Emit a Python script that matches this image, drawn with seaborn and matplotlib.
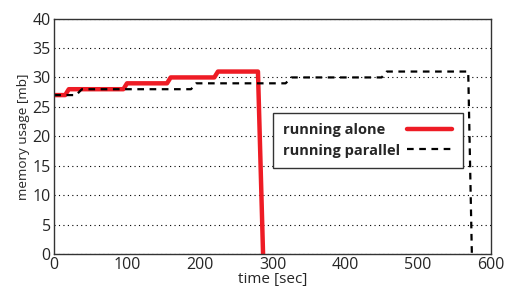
import matplotlib
matplotlib.use('Agg')
import matplotlib.pyplot as plt
import seaborn as sns
import pandas as pd

# step profiles
alone_time = [0, 15, 20, 95, 100, 155, 160, 220, 225, 280, 287]
alone_mem = [27, 27, 28, 28, 29, 29, 30, 30, 31, 31, 0]
parallel_time = [0, 30, 38, 188, 195, 318, 326, 450, 457, 569, 574]
parallel_mem = [27, 27, 28, 28, 29, 29, 30, 30, 31, 31, 0]

x_ticks = [0, 100, 200, 300, 400, 500, 600]
y_ticks = [0, 5, 10, 15, 20, 25, 30, 35, 40]

sns.set_style('white')
plt.rcParams['font.family'] = ['Open Sans', 'DejaVu Sans']

alone = pd.DataFrame({'time': alone_time, 'mem': alone_mem})
parallel = pd.DataFrame({'time': parallel_time, 'mem': parallel_mem})

fig, ax = plt.subplots(figsize=(5.07, 2.86), dpi=100)
fig.subplots_adjust(left=0.107, right=0.968, top=0.935, bottom=0.112)

sns.lineplot(data=alone, x='time', y='mem', sort=False, color='#ee1c25', lw=3.2,
			 label='running alone', ax=ax)
sns.lineplot(data=parallel, x='time', y='mem', sort=False, color='black', lw=1.6,
			 label='running parallel', ax=ax)
ax.lines[1].set_dashes([3, 2.5])

ax.set_xlim(0, 600)
ax.set_ylim(0, 40)
ax.set_xticks(x_ticks)
ax.set_yticks(y_ticks)
ax.tick_params(axis='both', labelsize=11.5, length=0, pad=2.5)
ax.yaxis.grid(True, linestyle=(0, (1, 3)), color='black', lw=0.8)
for s in ax.spines.values():
	s.set_color('#333333')
	s.set_linewidth(1.0)

ax.set_xlabel('time [sec]', fontsize=11, labelpad=-1)
ax.set_ylabel('memory usage [mb]', fontsize=9.7, labelpad=2)

leg = ax.legend(loc='upper left', bbox_to_anchor=(0.5, 0.6), borderaxespad=0,
				markerfirst=False, frameon=True, fancybox=False, edgecolor='#333333',
				framealpha=1, handlelength=3.1, handletextpad=0.5, borderpad=0.7,
				labelspacing=0.45, prop={'weight': 'bold', 'size': 10.5})
leg.get_frame().set_linewidth(1.0)

# left-align the label texts while keeping the handles in one column
fig.canvas.draw()
widths = [t.get_window_extent().width for t in leg.get_texts()]
for col in leg._legend_handle_box.get_children():
	col.align = 'left'
	for item in col.get_children():
		txt = item.get_children()[0]
		w = txt.get_window_extent().width
		item.sep = item.sep + (max(widths) - w) * 72 / fig.dpi

fig.savefig('out.png', dpi=100)
